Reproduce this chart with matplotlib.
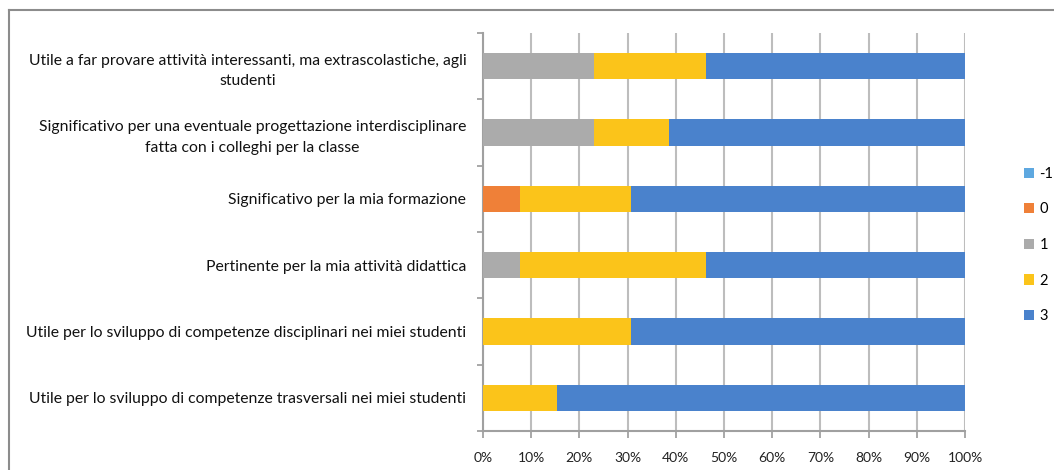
import matplotlib
matplotlib.use("Agg")
import matplotlib.pyplot as plt
from matplotlib.lines import Line2D
from matplotlib.patches import Patch
import numpy as np

plt.rcParams['font.family'] = ['Lato', 'DejaVu Sans']

categories = [
    "Utile a far provare attività interessanti, ma extrascolastiche, agli\nstudenti",
    "Significativo per una eventuale progettazione interdisciplinare\nfatta con i colleghi per la classe",
    "Significativo per la mia formazione",
    "Pertinente per la mia attività didattica",
    "Utile per lo sviluppo di competenze disciplinari nei miei studenti",
    "Utile per lo sviluppo di competenze trasversali nei miei studenti",
]
series_labels = ["-1", "0", "1", "2", "3"]
# percentages per series for each category
s_m1 = [0.0, 0.0, 0.0, 0.0, 0.0, 0.0]
s_0 = [0.0, 0.0, 7.7, 0.0, 0.0, 0.0]
s_1 = [23.1, 23.1, 0.0, 7.7, 0.0, 0.0]
s_2 = [23.1, 15.4, 23.1, 38.5, 30.8, 15.4]
s_3 = [53.8, 61.5, 69.2, 53.8, 69.2, 84.6]
colors = ["#5EA8E0", "#EF8038", "#ABABAB", "#FBC41A", "#4A82CC"]
xtick_vals = list(range(0, 101, 10))
xtick_labels = [f"{t}%" for t in xtick_vals]

fig = plt.figure(figsize=(10.54, 4.70), dpi=100)
ax = fig.add_axes([483/1054, 39/470, (965-483)/1054, (431-33)/470])

y = np.arange(len(categories))
left = np.zeros(len(categories))
for vals, lab, col in zip([s_m1, s_0, s_1, s_2, s_3], series_labels, colors):
    v = np.array(vals)
    ax.barh(y, v, left=left, height=0.4, color=col, label=lab, zorder=3)
    left += v

ax.set_xlim(0, 100)
ax.set_ylim(len(categories) - 0.5, -0.5)
ax.set_xticks(xtick_vals)
ax.set_xticklabels(xtick_labels, fontsize=10, color="#222222")
ax.set_yticks(y)
ax.set_yticklabels(categories, fontsize=11.3, color="#111111", ha="right",
                   multialignment="center", linespacing=1.6)
ax.tick_params(axis="y", which="major", length=0, pad=12)

# minor ticks at category boundaries
ax.set_yticks(np.arange(-0.5, len(categories), 1), minor=True)
ax.tick_params(axis="y", which="minor", length=4, color="#999999", width=1.2, direction="out")
ax.tick_params(axis="x", length=5, color="#999999", width=1.2, direction="out", pad=10)

ax.grid(axis="x", color="#BDBDBD", linewidth=1.5, zorder=0)
for sp in ["top", "right"]:
    ax.spines[sp].set_visible(False)
for sp in ["left", "bottom"]:
    ax.spines[sp].set_color("#A0A0A0")
    ax.spines[sp].set_linewidth(1.5)

handles = [Patch(facecolor=c, edgecolor="none") for c in colors]
fig.legend(handles, series_labels, loc="center left", bbox_to_anchor=(1011/1054, (470-245)/470),
           frameon=False, fontsize=10.5, handlelength=0.7, handleheight=0.7, handletextpad=0.35,
           labelspacing=1.48)

# outer frame
fig.add_artist(Line2D([9/1054, 1.0], [1 - 10/470, 1 - 10/470], color="#8C8C8C", lw=1.5, transform=fig.transFigure))
fig.add_artist(Line2D([9/1054, 9/1054], [0, 1 - 10/470], color="#8C8C8C", lw=1.5, transform=fig.transFigure))

fig.savefig("out.png", dpi=100)
